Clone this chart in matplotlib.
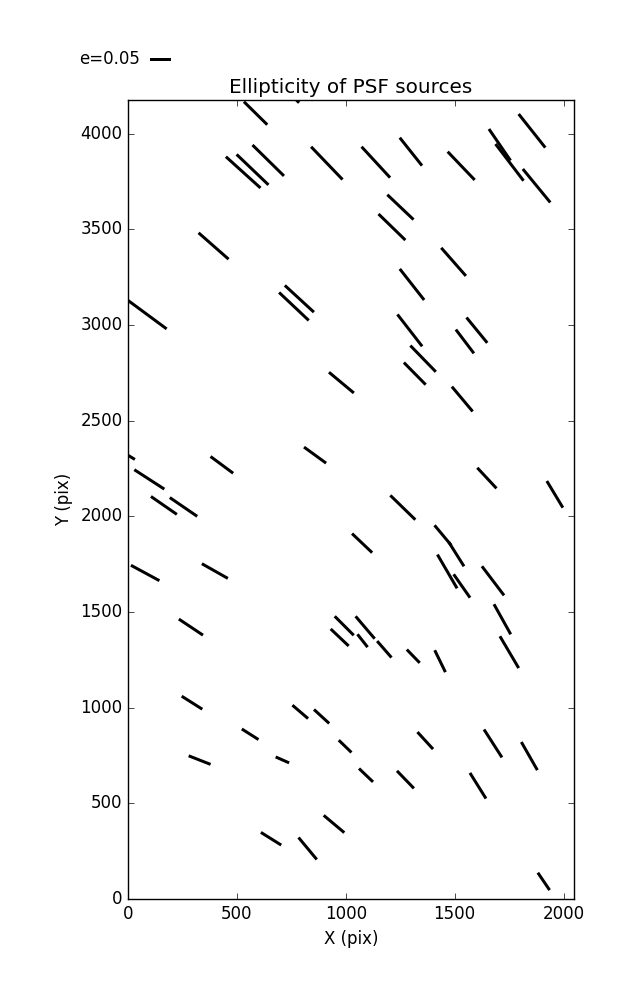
import numpy as np
import matplotlib
matplotlib.use("Agg")
import matplotlib.pyplot as plt

# PSF source positions (pix), ellipticity and whisker angle (deg)
x_src = [586, 738, 644, 572, 529, 913, 393,
         1855, 1707, 1752, 1876, 1299, 1138, 1530, 1251, 1212, 1495, 1304,
         89, 762, 787, 980, -26, 98, 431, 859, 165, 255,
         1294, 1355, 1317, 1547, 1602, 1535, 1648, 1960, 1262,
         79, 399, 289, 993, 972, 294, 1075, 1446, 1508, 1466, 1533, 1676,
         1719, 1751, 1089, 1077, 1177, 1310, 1433,
         791, 889, 561, 997, 329, 709, 946, 657, 825,
         1093, 1274, 1365, 1676, 1843, 1607, 1909]
y_src = [4107, 4216, 3860, 3812, 3798, 3846, 3413,
         4015, 3942, 3850, 3728, 3906, 3851, 3832, 3616, 3512, 3330, 3212,
         3054, 3097, 3137, 2699, 2337, 2193, 2269, 2320, 2057, 2049,
         2972, 2824, 2746, 2914, 2973, 2613, 2200, 2115, 2046,
         1704, 1714, 1421, 1428, 1367, 1026, 1860, 1901, 1802, 1712, 1636, 1663,
         1462, 1290, 1419, 1350, 1305, 1269, 1243,
         978, 954, 861, 798, 726, 727, 392, 315, 264,
         647, 624, 828, 813, 747, 592, 92]
ellip = [0.078, 0.070, 0.105, 0.105, 0.111, 0.108, 0.095,
         0.102, 0.091, 0.110, 0.103, 0.085, 0.100, 0.093, 0.086, 0.089, 0.089, 0.094,
         0.114, 0.097, 0.094, 0.077, 0.070, 0.085, 0.067, 0.065, 0.075, 0.079,
         0.096, 0.087, 0.074, 0.071, 0.078, 0.077, 0.067, 0.074, 0.083,
         0.077, 0.071, 0.069, 0.064, 0.059, 0.058, 0.066, 0.062, 0.068, 0.093, 0.068, 0.087,
         0.082, 0.088, 0.070, 0.039, 0.052, 0.044, 0.058,
         0.049, 0.049, 0.047, 0.042, 0.056, 0.035, 0.064, 0.057, 0.068,
         0.046, 0.058, 0.055, 0.079, 0.077, 0.072, 0.050]
angle_deg = [-44.6, -45.0, -44.5, -43.7, -42.1, -46.2, -41.3,
             -51.6, -55.6, -52.7, -50.6, -51.5, -47.3, -46.3, -43.5, -44.2, -48.7, -51.9,
             -36.4, -43.3, -42.6, -39.8, -31.0, -32.9, -36.5, -36.0, -34.7, -34.4,
             -52.2, -45.8, -45.4, -52.8, -50.7, -50.0, -47.0, -59.0, -44.2,
             -28.4, -29.5, -33.7, -45.0, -43.4, -32.3, -43.5, -50.1, -57.8, -59.8, -55.0, -52.8,
             -60.9, -59.5, -49.6, -51.8, -49.0, -45.9, -64.0,
             -40.5, -42.5, -32.4, -44.1, -21.4, -23.8, -40.0, -32.0, -50.3,
             -43.7, -46.0, -47.5, -57.3, -60.3, -58.0, -55.9]

plt.style.use("classic")
fig = plt.figure(figsize=(6.37, 10), dpi=100, facecolor="white")
ax = fig.add_axes([0.2009, 0.101, 0.7002, 0.799])

e = np.array(ellip)
th = np.radians(angle_deg)
u = e * np.cos(th)
v = e * np.sin(th)

q = ax.quiver(x_src, y_src, u, v, angles="uv", pivot="middle",
              scale_units="inches", scale=0.05 / 0.21,
              units="dots", width=3,
              headwidth=0, headlength=0, headaxislength=0, color="black")
# key arrow starts at X when the label sits on the west side
ax.quiverkey(q, 0.2355, 0.941, 0.05, "e=0.05", labelpos="W",
             coordinates="figure", fontproperties={"size": 12})

ax.set_xlim(0, 2048)
ax.set_ylim(0, 4176)
ax.set_xticks([0, 500, 1000, 1500, 2000])
ax.set_title("Ellipticity of PSF sources")
ax.set_xlabel("X (pix)")
ax.set_ylabel("Y (pix)")

fig.savefig("out.png", dpi=100, facecolor="white")
